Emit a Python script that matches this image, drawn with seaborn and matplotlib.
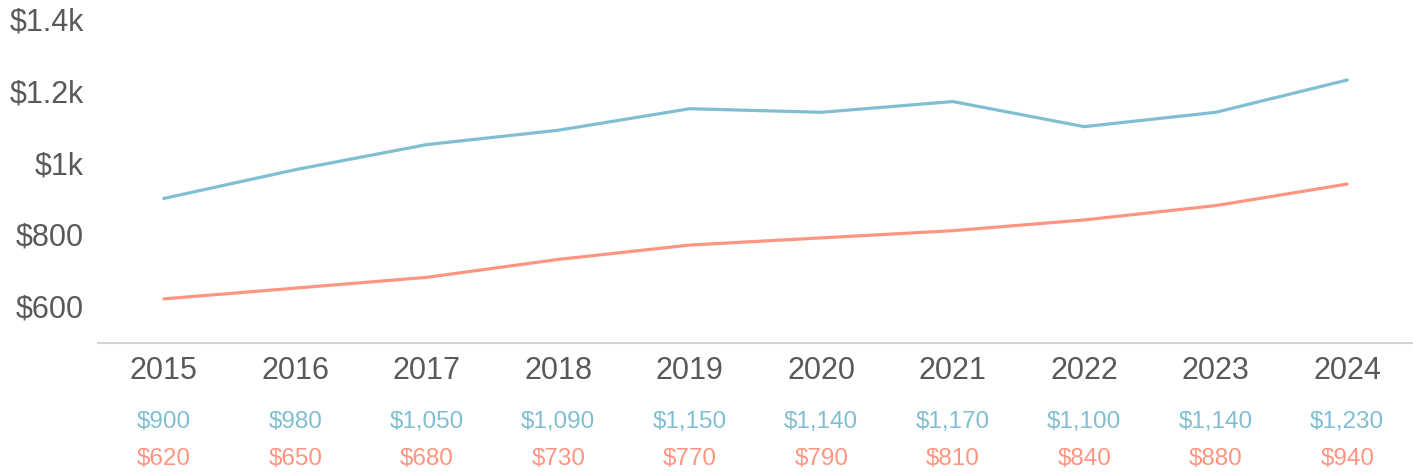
import pandas as pd
import matplotlib.pyplot as plt
import matplotlib.ticker as mticker
import seaborn as sns

# Values
years = [2015, 2016, 2017, 2018, 2019, 2020, 2021, 2022, 2023, 2024]
upper_values = [900, 980, 1050, 1090, 1150, 1140, 1170, 1100, 1140, 1230]
lower_values = [620, 650, 680, 730, 770, 790, 810, 840, 880, 940]
series_names = ['Upper', 'Lower']
series_colors = ['#7fbfd1', '#ff9580']

df = pd.DataFrame({
    'Year': [str(y) for y in years] * 2,
    'Value': upper_values + lower_values,
    'Series': [series_names[0]] * len(years) + [series_names[1]] * len(years),
})

sns.set_style('white')
plt.rcParams['font.family'] = ['Liberation Sans', 'DejaVu Sans']

fig = plt.figure(figsize=(14.13, 4.72), dpi=100)
ax = fig.add_axes([0.0694, 0.2733, 0.9306, 0.7267])

sns.lineplot(data=df, x='Year', y='Value', hue='Series',
             palette=dict(zip(series_names, series_colors)),
             linewidth=2.3, legend=False, ax=ax)

ax.set_xlim(-0.5, len(years) - 0.5)
ax.set_ylim(497, 1453)
ax.set_yticks([600, 800, 1000, 1200, 1400])


def money_k(v, pos):
    if v >= 1000:
        return f'${v / 1000:g}k'
    return f'${v:g}'


ax.yaxis.set_major_formatter(mticker.FuncFormatter(money_k))
ax.tick_params(axis='both', length=0, labelsize=22, colors='#595959')
ax.tick_params(axis='y', pad=10)
ax.tick_params(axis='x', pad=9)
ax.set_xlabel('')
ax.set_ylabel('')

for side in ['top', 'right', 'left']:
    ax.spines[side].set_visible(False)
ax.spines['bottom'].set_color('#d4d4d4')
ax.spines['bottom'].set_linewidth(1.5)

# value rows under the axis
trans = ax.get_xaxis_transform()
for i, (u, l) in enumerate(zip(upper_values, lower_values)):
    ax.text(i, -0.229, f'${u:,}', transform=trans, ha='center', va='center',
            fontsize=17.5, color=series_colors[0], clip_on=False)
    ax.text(i, -0.338, f'${l:,}', transform=trans, ha='center', va='center',
            fontsize=17.5, color=series_colors[1], clip_on=False)

fig.savefig('out.png', dpi=100)
